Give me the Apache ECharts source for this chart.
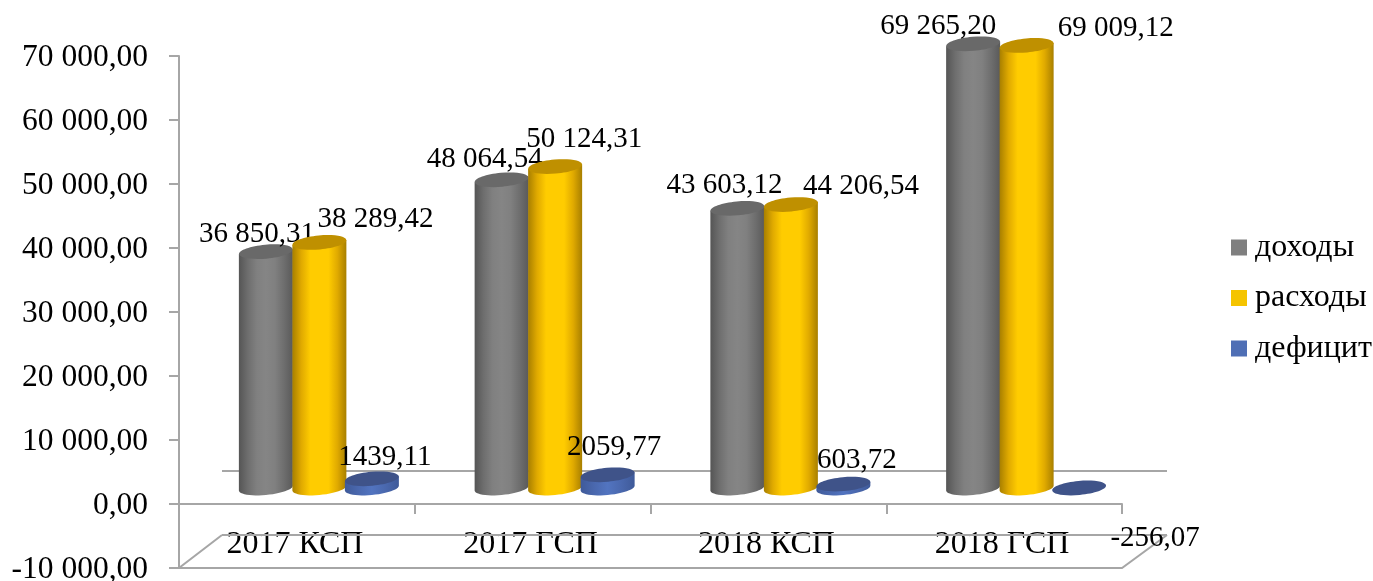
<!DOCTYPE html>
<html><head><meta charset="utf-8">
<script src="https://cdn.jsdelivr.net/npm/echarts@6/dist/echarts.min.js"></script>
<style>html,body{margin:0;padding:0;background:#fff}#c{width:1373px;height:581px}</style>
</head><body><div id="c"></div>
<script>
const categories = ['2017 КСП', '2017 ГСП', '2018 КСП', '2018 ГСП'];
const incomes = [36850.31, 48064.54, 43603.12, 69265.20];
const expenses = [38289.42, 50124.31, 44206.54, 69009.12];
const deficit = [1439.11, 2059.77, 603.72, -256.07];
const incomeLabels = ['36 850,31', '48 064,54', '43 603,12', '69 265,20'];
const expenseLabels = ['38 289,42', '50 124,31', '44 206,54', '69 009,12'];
const deficitLabels = ['1439,11', '2059,77', '603,72', '-256,07'];

// layout of the hand-placed data labels, [dx, dy] from the top of each cylinder
const incomeLabelOffsets = [[-9,-17.5],[-17,-20],[-13,-23],[-35,-17]];
const expenseLabelOffsets = [[56,-23.5],[29,-27],[70,-18],[89,-17]];
const deficitLabelOffsets = [[13,-21],[6.5,-27],[13.5,-24],[76,50]];

const FONT = '"Liberation Serif","Times New Roman",serif';
const DEPTH_Y = 16, RX = 27, RY = 7, TILT = 0.09, SCALE = 1.002;

function axisText(v){
  const s = Math.abs(v).toFixed(2).replace('.', ',');
  const m = s.split(',');
  const t = m[0].replace(/\B(?=(\d{3})+$)/g, ' ');
  return (v < 0 ? '-' : '') + t + ',' + m[1];
}

function hGrad(stops){
  return {type:'linear',x:0,y:0,x2:1,y2:0,colorStops:stops.map((c,i)=>({offset:i/(stops.length-1),color:c}))};
}

function cylinder(spec){
  return function(params, api){
    const i = api.value(0), v = api.value(1);
    const c0 = api.coord([i, 0]), c1 = api.coord([i, v]);
    const cx = c0[0] + spec.dx;
    const by = c0[1] - DEPTH_Y;
    const ty = by + (c1[1] - c0[1]) * SCALE;
    const top = v > 0 ? ty : by;
    const pts = [[cx - RX, top + RX * TILT], [cx + RX, top - RX * TILT]];
    for (let k = 0; k <= 24; k++){
      const a = Math.PI * k / 24;
      const ex = RX * Math.cos(a), ey = RY * Math.sin(a);
      pts.push([cx + ex, by + ey - ex * TILT]);
    }
    const children = [];
    if (v > 0) children.push({type:'polygon',shape:{points:pts},style:{fill:hGrad(spec.body)}});
    children.push({type:'ellipse',originX:cx,originY:top,rotation:Math.atan(TILT),
      shape:{cx:cx,cy:top,rx:RX,ry:RY},style:{fill:spec.top}});
    const off = spec.offsets[i];
    children.push({type:'text',z2:50,style:{x:cx+off[0],y:top+off[1],text:spec.labels[i],fill:'#000',
      font:'29px '+FONT,align:'center',verticalAlign:'middle'}});
    return {type:'group',children:children};
  };
}

function frame(params, api){
  const g = params.coordSys;
  const y0 = api.coord([0, 0])[1];
  const L = g.x, R = g.x + g.width, B = g.y + g.height;
  const dx = 43, dy = 33;
  const st = {stroke:'#a6a6a6',lineWidth:2,fill:null};
  const pl = pts => ({type:'polyline',shape:{points:pts},style:st});
  return {type:'group',children:[
    pl([[L+dx,B-dy],[L,B],[R,B],[R+dx+2,B-dy]]),
    pl([[L+dx,B-dy],[R+dx+2,B-dy]]),
    pl([[L+dx,y0-dy],[R+dx+2,y0-dy]])
  ]};
}

function series(name, data, spec){
  return {type:'custom',name:name,coordinateSystem:'cartesian2d',clip:false,z:spec.z,
    itemStyle:{color:spec.legend},
    encode:{x:0,y:1},
    data:data.map((v,i)=>[i,v]),
    renderItem:cylinder(spec)};
}

const chart = echarts.init(document.getElementById('c'), null, {renderer:'canvas'});
chart.setOption({
  animation:false,
  backgroundColor:'#fff',
  textStyle:{fontFamily:FONT},
  grid:{left:179,right:251,top:56,bottom:13,containLabel:false,outerBoundsMode:'none'},
  legend:{orient:'vertical',left:1226,top:226.5,icon:'rect',itemWidth:16,itemHeight:16,itemGap:18.5,
    data:['доходы','расходы','дефицит'],selectedMode:false,
    textStyle:{fontFamily:FONT,fontSize:32,color:'#000',padding:[0,0,0,3]}},
  xAxis:{type:'category',data:categories,
    axisLine:{onZero:true,lineStyle:{color:'#a6a6a6',width:2}},
    axisTick:{show:true,length:10,lineStyle:{color:'#a6a6a6',width:2}},
    axisLabel:{margin:-39,padding:[0,4,0,0],fontFamily:FONT,fontSize:32,color:'#000'}},
  yAxis:{type:'value',min:-10000,max:70000,interval:10000,
    axisLine:{show:true,lineStyle:{color:'#a6a6a6',width:2}},
    axisTick:{show:true,length:10,lineStyle:{color:'#a6a6a6',width:2}},
    splitLine:{show:false},
    axisLabel:{margin:31,verticalAlign:'top',lineHeight:4,fontFamily:FONT,fontSize:31.5,color:'#000',formatter:axisText}},
  series:[
    {type:'custom',name:'frame',coordinateSystem:'cartesian2d',clip:false,silent:true,z:1,
      data:[[0,0]],encode:{x:0,y:1},renderItem:frame},
    series('доходы',incomes,{z:2,legend:'#7f7f7f',dx:-31,top:'#696969',labels:incomeLabels,offsets:incomeLabelOffsets,
      body:['#555555','#6e6e6e','#808080','#858585','#808080','#6e6e6e','#5a5a5a']}),
    series('расходы',expenses,{z:3,legend:'#f5c400',dx:22.5,top:'#bf9000',labels:expenseLabels,offsets:expenseLabelOffsets,
      body:['#a87f00','#e0aa00','#ffcc00','#ffcc00','#ffcc00','#e0aa00','#a87f00']}),
    series('дефицит',deficit,{z:4,legend:'#4f6fb5',dx:75,top:'#3f5389',labels:deficitLabels,offsets:deficitLabelOffsets,
      body:['#3f5a99','#4a68ae','#5274c0','#4a68ae','#3f5a99']})
  ]
});
</script></body></html>
